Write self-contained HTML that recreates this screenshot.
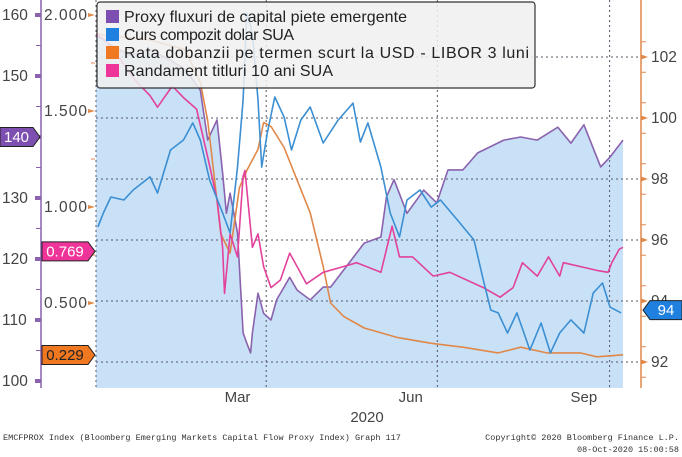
<!DOCTYPE html>
<html><head><meta charset="utf-8"><style>
body{margin:0;background:#fff;width:682px;height:457px;overflow:hidden;font-family:"Liberation Sans",sans-serif}
svg{display:block}
</style></head><body>
<svg id="chart" width="682" height="457" viewBox="0 0 682 457" xmlns="http://www.w3.org/2000/svg">
<g id="fillg"></g>
<g id="grid"></g>
<g id="lines"></g>
<g id="axes"></g>
<g>
<rect x="97" y="2" width="438" height="86" rx="3" fill="rgba(240,240,240,0.86)" stroke="#333" stroke-width="1.2"/>
<rect x="106" y="10" width="13" height="13" fill="#7d4fb0"/><text x="124" y="22" font-size="16" textLength="283" fill="#222">Proxy fluxuri de capital piete emergente</text>
<rect x="106" y="28" width="13" height="13" fill="#1f80e0"/><text x="124" y="40" font-size="16" textLength="170" fill="#222">Curs compozit dolar SUA</text>
<rect x="106" y="46" width="13" height="13" fill="#f07820"/><text x="124" y="58" font-size="16" textLength="405" fill="#222">Rata dobanzii pe termen scurt la USD - LIBOR 3 luni</text>
<rect x="106" y="64" width="13" height="13" fill="#ee3399"/><text x="124" y="76" font-size="16" textLength="209" fill="#222">Randament titluri 10 ani SUA</text>
</g>
<g id="labels" font-size="15"></g>
<text x="3" y="440" font-family="Liberation Mono" font-size="8.5" fill="#333">EMCFPROX Index (Bloomberg Emerging Markets Capital Flow Proxy Index) Graph 117</text>
<text x="679" y="440" text-anchor="end" font-family="Liberation Mono" font-size="8.5" fill="#333">Copyright© 2020 Bloomberg Finance L.P.</text>
<text x="679" y="452" text-anchor="end" font-family="Liberation Mono" font-size="8.5" fill="#333">08-Oct-2020 15:00:58</text>
</svg>
<script>
const proxyDays=[0,8,18,29,40,48,56,60,65,68,70,72,76,79,81,83,84,87,90,94,97,104,108,115,122,126,144,153,156,160,167,176,183,189,197,205,219,228,237,248,255,262,271,276,283];
const proxyVals=[156.7,155.1,153.4,154.3,152.6,151.0,147.7,139.5,142.8,134.1,127.5,130.8,124.3,107.9,106.2,104.6,107.9,114.4,111.1,110.0,113.3,117.0,114.9,113.3,115.4,115.4,122.6,123.6,130.2,133.0,127.5,131.3,129.2,134.6,134.6,137.4,139.5,140.0,139.5,141.6,139.0,142.0,135.1,136.7,139.5];
const dollarDays=[1,4,8,15,20,29,33,40,47,52,56,61,68,72,76,79,81,84,87,89,92,96,101,105,110,115,122,130,138,142,146,153,158,163,167,174,180,185,194,203,208,212,216,221,226,233,239,244,249,255,262,267,272,276,282];
const dollarVals=[96.43,96.89,97.41,97.31,97.64,98.07,97.54,98.95,99.28,99.84,99.28,97.97,96.89,96.23,98.39,100.59,103.44,102.79,100.59,98.39,99.51,100.69,100.03,98.95,99.93,100.36,99.18,99.93,100.49,99.21,99.84,98.39,96.89,96.10,97.31,97.64,97.08,97.31,96.66,96.00,94.69,93.70,93.61,92.95,93.61,92.39,93.28,92.30,92.95,93.38,92.95,94.26,94.59,93.80,93.61];
const liborDays=[0,29,48,56,60,62,67,72,77,81,87,90,94,101,108,115,122,126,133,144,162,180,197,216,228,242,260,269,283];
const liborVals=[1.90,1.87,1.82,1.65,1.45,1.28,0.86,0.76,1.10,1.19,1.30,1.44,1.42,1.31,1.14,0.97,0.69,0.50,0.43,0.37,0.32,0.29,0.27,0.24,0.27,0.24,0.24,0.22,0.23];
const yieldDays=[0,5,13,21,29,33,41,47,54,60,65,68,69,72,76,79,80,84,87,90,94,99,104,108,113,122,133,140,153,159,163,170,181,190,208,217,224,229,237,243,249,251,269,275,277,281,283];
const yieldVals=[1.90,1.87,1.77,1.66,1.58,1.52,1.63,1.57,1.51,1.26,1.04,0.79,0.55,0.86,0.74,1.16,1.19,0.79,0.86,0.69,0.58,0.62,0.76,0.69,0.60,0.66,0.69,0.71,0.66,0.90,0.74,0.74,0.64,0.66,0.58,0.53,0.58,0.71,0.64,0.74,0.64,0.71,0.67,0.66,0.71,0.78,0.79];
const leftTicks=[100,110,120,130,140,150,160];
const midTicks=["0.500","1.000","1.500","2.000"];
const rightTicks=[92,94,96,98,100,102];
const monthLabels=["Mar","Jun","Sep"];
const monthLabelDays=[76,169,262];
const monthLineDays=[91.4,183.3,275.8];
const lastLabels={proxy:"140",yield:"0.769",libor:"0.229",dollar:"94"};

const NS="http://www.w3.org/2000/svg";
const X0=96,X1=623,BOT=388;
const xs=d=>X0+d*(X1-X0)/283;
const yL=v=>15+(160-v)*6.1;
const yM=v=>15+(2-v)*192;
const yR=v=>57+(102-v)*30.5;
function mk(tag,attrs,parent){const e=document.createElementNS(NS,tag);for(const k in attrs)e.setAttribute(k,attrs[k]);parent.appendChild(e);return e;}
const g=id=>document.getElementById(id);
function pts(days,vals,fy){return days.map((d,i)=>xs(d).toFixed(1)+","+fy(vals[i]).toFixed(1)).join(" ");}

const fp=pts(proxyDays,proxyVals,yL)+" "+xs(proxyDays[proxyDays.length-1])+","+BOT+" "+xs(proxyDays[0])+","+BOT;
const area=mk("polygon",{points:fp,fill:"#c9e1f7"},g("fillg"));



rightTicks.forEach(t=>{const l=mk("line",{x1:X0,x2:641,y1:yR(t),y2:yR(t),stroke:"#556",
 "stroke-width":1,"stroke-dasharray":"2,3"},g("grid"));
 
 });
[X0].concat(monthLineDays.map(xs)).forEach((x,i)=>{const l=mk("line",{x1:x,x2:x,y1:0,y2:BOT,stroke:"#556","stroke-width":1,"stroke-dasharray":"2,3"},g("grid"));
 
 });

const series=[[proxyDays,proxyVals,yL,"#8a62ad","proxy-line"],[liborDays,liborVals,yM,"#e0884a","libor-line"],[yieldDays,yieldVals,yM,"#e2429c","yield-line"],[dollarDays,dollarVals,yR,"#3b8fd2","dollar-line"]];
series.forEach(s=>{const p=mk("polyline",{points:pts(s[0],s[1],s[2]),fill:"none",stroke:s[3],"stroke-width":1.6,"stroke-linejoin":"round"},g("lines"));
 
 });

const ax=g("axes");
let a=mk("line",{x1:41,x2:41,y1:0,y2:BOT,stroke:"#8a62ad","stroke-width":1.5},ax);


a=mk("line",{x1:641,x2:641,y1:0,y2:BOT,stroke:"#e0884a","stroke-width":1.5},ax);


const lab=g("labels");
leftTicks.forEach(t=>{const y=yL(t);
 mk("polygon",{points:`35,${y-2} 41,${y-2} 41,${y+2} 35,${y+2}`,fill:"#8a62ad"},ax);
 mk("line",{x1:36,x2:41,y1:y-30.5,y2:y-30.5,stroke:"#8a62ad"},ax);
 const tx=mk("text",{x:2,y:y+5,fill:"#444","font-size":15.5},lab);tx.textContent=t;
 
 });
midTicks.forEach(t=>{const y=yM(+t);
 mk("polygon",{points:`88,${y-2} 95,${y} 88,${y+2}`,fill:"#e0884a"},ax);
 mk("line",{x1:91,x2:95,y1:y-48,y2:y-48,stroke:"#e0884a"},ax);
 const tx=mk("text",{x:44,y:y+5,fill:"#444","font-size":15.5,textLength:43},lab);tx.textContent=t;
 
 });
rightTicks.forEach(t=>{const y=yR(t);
 mk("polygon",{points:`641,${y-2.5} 648,${y} 641,${y+2.5}`,fill:"#e0884a"},ax);
 mk("line",{x1:641,x2:646,y1:y-15.25,y2:y-15.25,stroke:"#e0884a"},ax);
 mk("line",{x1:641,x2:646,y1:y+15.25,y2:y+15.25,stroke:"#e0884a"},ax);
 const tx=mk("text",{x:651,y:y+5,fill:"#444","font-size":15.5},lab);tx.textContent=t;
 
 });
monthLabels.forEach((m,i)=>{const tx=mk("text",{x:xs(monthLabelDays[i]),y:402,"text-anchor":"middle",fill:"#444","font-size":15},lab);tx.textContent=m;
 
 });
let yr=mk("text",{x:367,y:422,"text-anchor":"middle",fill:"#444","font-size":15},lab);yr.textContent="2020";



function tag(x,y,w,txt,bg,fg,dir,name){
 const h=19,t=y-h/2;let p;
 if(dir>0)p=`${x},${t} ${x+w},${t} ${x+w+7},${y} ${x+w},${t+h} ${x},${t+h}`;
 else p=`${x},${y} ${x+7},${t} ${x+w+7},${t} ${x+w+7},${t+h} ${x+7},${t+h}`;
 const gg=mk("g",{},lab);
 
 
 mk("polygon",{points:p,fill:bg,stroke:"#222","stroke-width":1},gg);
 const tx=mk("text",{x:dir>0?x+w/2:x+7+w/2,y:y+5,"text-anchor":"middle",fill:fg,"font-size":15},gg);tx.textContent=txt;
}
tag(0,yL(+lastLabels.proxy),33,lastLabels.proxy,"#7d4fb0","#fff",1,"proxy-last-value-tag");
tag(42,yM(+lastLabels.yield),46,lastLabels.yield,"#ee3399","#fff",1,"yield-last-value-tag");
tag(42,yM(+lastLabels.libor),46,lastLabels.libor,"#f07820","#222",1,"libor-last-value-tag");
tag(643,yR(93.7),32,lastLabels.dollar,"#1f80e0","#fff",-1,"dollar-last-value-tag");
</script>
</body></html>
